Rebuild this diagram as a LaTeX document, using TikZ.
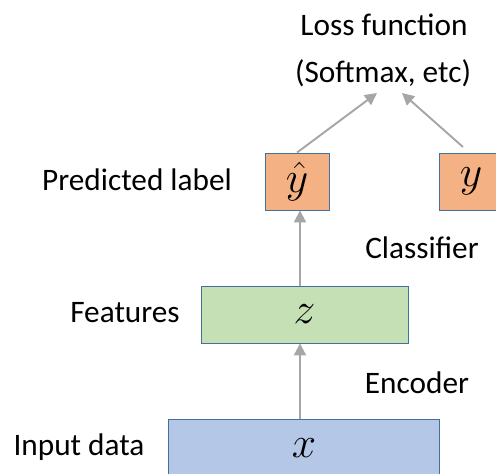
\documentclass[tikz,border=0pt]{standalone}
\usepackage{fontspec}
\setmainfont{Carlito}
\usetikzlibrary{arrows.meta}
\definecolor{boxline}{HTML}{41719C}
\definecolor{predfill}{HTML}{F4B183}
\definecolor{featfill}{HTML}{C5E0B4}
\definecolor{inputfill}{HTML}{B4C7E7}
\definecolor{arrgray}{HTML}{A6A6A6}
\begin{document}
\begin{tikzpicture}[x=0.02cm,y=-0.02cm,
	box/.style={draw=boxline,line width=0.5pt,inner sep=0pt,minimum height=1.14cm,font=\fontsize{25}{28}\selectfont},
	lbl/.style={font=\fontsize{17.8}{21}\selectfont,inner sep=0pt},
	arr/.style={draw=arrgray,line width=1.1pt,-{Triangle[length=0.24cm,width=0.24cm]}}]
	\useasboundingbox (0,0) rectangle (496,473);
	% boxes
	\node[box,fill=inputfill,minimum width=5.42cm] (xin) at (304,448) {$x$};
	\node[box,fill=featfill,minimum width=4.14cm] (feat) at (304.5,314.5) {$z$};
	\node[box,fill=predfill,minimum width=1.28cm] (yhat) at (297,181.5) {$\hat{y}$};
	\node[box,fill=predfill,minimum width=1.28cm] (ytrue) at (471,181.5) {$y$};
	% labels
	\node[lbl] (loss) at (384,25) {Loss function};
	\node[lbl] (lossb) at (383,73) {(Softmax, etc)};
	\node[lbl] (pred) at (137,180) {Predicted label};
	\node[lbl] (cls) at (422,248) {Classifier};
	\node[lbl] (featlbl) at (125,313) {Features};
	\node[lbl] (enc) at (417,383) {Encoder};
	\node[lbl] (inlbl) at (79,447) {Input data};
	\coordinate (ax) at (300,0);
	\coordinate (tipL) at (377,93);
	\coordinate (tipR) at (402,93);
	\coordinate (ystart) at (463,147);
	% arrows
	\draw[arr] (xin.north -| ax) -- (feat.south -| ax);
	\draw[arr] (feat.north -| ax) -- (yhat.south -| ax);
	\draw[arr] (yhat.north) -- (tipL);
	\draw[arr] (ystart) -- (tipR);
\end{tikzpicture}
\end{document}
